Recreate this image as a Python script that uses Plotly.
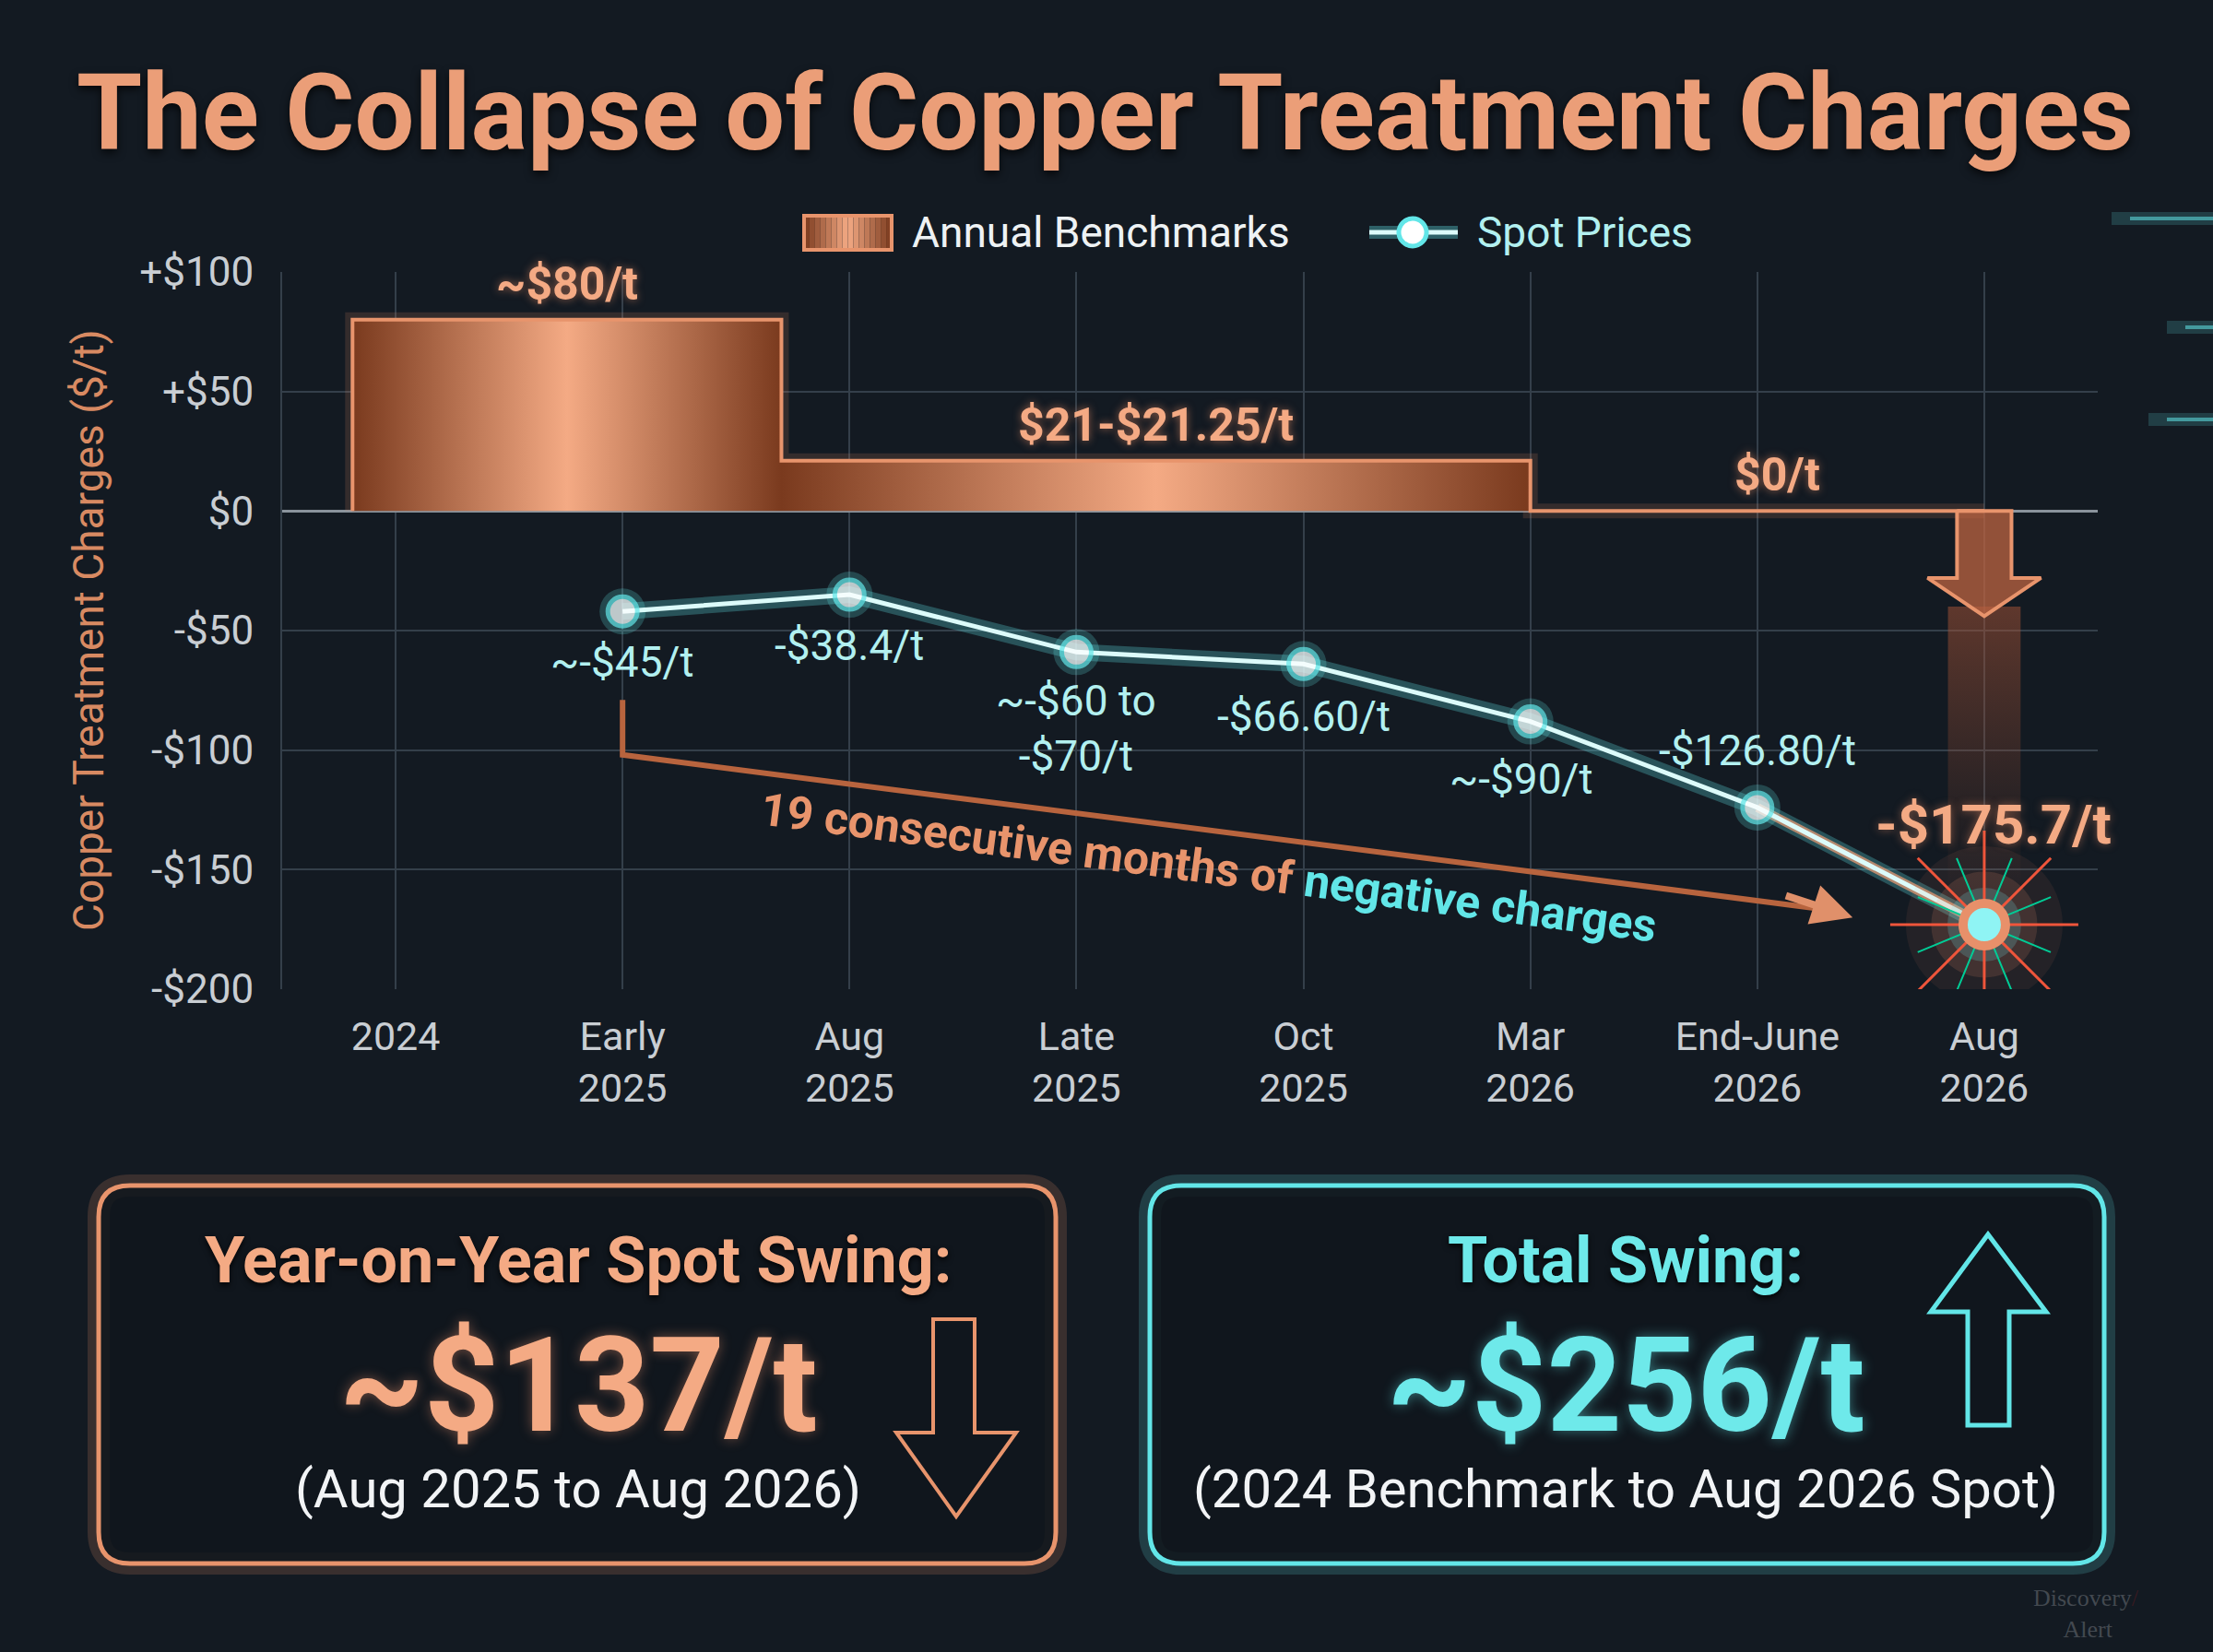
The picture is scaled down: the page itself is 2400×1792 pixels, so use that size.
import plotly.graph_objects as go

# ---- data ----
categories = ["2024", "Early<br>2025", "Aug<br>2025", "Late<br>2025", "Oct<br>2025",
              "Mar<br>2026", "End-June<br>2026", "Aug<br>2026"]

bench_start = [-0.19, 1.70, 5.0]
bench_end = [1.70, 5.0, 7.0]
bench_val = [80, 21, 0]
bench_labels = ["~$80/t", "$21-$21.25/t", "$0/t"]

spot_x = [1, 2, 3, 4, 5, 6, 7]
spot_val = [-42, -35, -59, -64, -88, -124, -173]
spot_labels = ["~-$45/t", "-$38.4/t", "~-$60 to<br>-$70/t", "-$66.60/t",
               "~-$90/t", "-$126.80/t", "-$175.7/t"]

y_ticks = [-200, -150, -100, -50, 0, 50, 100]
y_ticktext = ["-$200", "-$150", "-$100", "-$50", "$0", "+$50", "+$100"]

# ---- styling ----
W, H = 2400, 1792
L, R, T, B = 306, 125, 295, 719
PW, PH = W - L - R, H - T - B
BG = "#131a22"
GRID = "#343f4a"
COPPER = "#e8946c"
COPPER_D = "#7a3a1e"
COPPER_L = "#f4aa84"
CYAN = "#62e6e8"
CYAN_TXT = "#b2f0f0"
FONT = "Roboto"


def px(x):
    return (x - L) / PW


def py(y):
    return (H - B - y) / PH


def rounded_box(x0, y0, x1, y1, r):
    X0, X1, Y0, Y1 = px(x0), px(x1), py(y1), py(y0)
    rx, ry = r / PW, r / PH
    return (f"M {X0+rx},{Y0} L {X1-rx},{Y0} Q {X1},{Y0} {X1},{Y0+ry} "
            f"L {X1},{Y1-ry} Q {X1},{Y1} {X1-rx},{Y1} L {X0+rx},{Y1} "
            f"Q {X0},{Y1} {X0},{Y1-ry} L {X0},{Y0+ry} Q {X0},{Y0} {X0+rx},{Y0} Z")


def arrow_path(pts):
    return "M " + " L ".join(f"{px(a)},{py(b)}" for a, b in pts) + " Z"


def mix(c1, c2, t):
    a = [int(c1[i:i + 2], 16) for i in (1, 3, 5)]
    b = [int(c2[i:i + 2], 16) for i in (1, 3, 5)]
    return "rgb(%d,%d,%d)" % tuple(round(a[k] + (b[k] - a[k]) * t) for k in range(3))


fig = go.Figure()

# benchmark step area
bx, by = [bench_start[0]], [0]
for s, e, v in zip(bench_start, bench_end, bench_val):
    bx += [s, e]
    by += [v, v]

span = bench_end[-1] - bench_start[0]
stops = []
for s, e in zip(bench_start[:2], bench_end[:2]):
    stops.append([(s - bench_start[0]) / span, COPPER_D])
    stops.append([((s + e) / 2 - bench_start[0]) / span, COPPER_L])
stops.append([(bench_end[1] - bench_start[0]) / span - 0.001, COPPER_D])
stops.append([1.0, COPPER_D])

fig.add_trace(go.Scatter(x=bx, y=by, mode="lines", hoverinfo="skip",
                         line=dict(color="rgba(232,140,100,0.16)", width=16)))
fig.add_trace(go.Scatter(
    x=bx, y=by, mode="lines", name="Annual Benchmarks", fill="tozeroy",
    fillgradient=dict(type="horizontal", colorscale=stops,
                      start=bench_start[0], stop=bench_end[-1]),
    line=dict(color=COPPER, width=4)))

# fading band + down arrow at Aug 2026
ax = spot_x[-1]
fig.add_trace(go.Scatter(
    x=[ax - 0.16, ax + 0.16, ax + 0.16, ax - 0.16, ax - 0.16],
    y=[-40, -40, spot_val[-1] + 15, spot_val[-1] + 15, -40],
    mode="lines", fill="toself", line=dict(width=0), hoverinfo="skip",
    fillgradient=dict(type="vertical",
                      colorscale=[[0, "rgba(160,80,50,0.0)"], [1, "rgba(170,85,55,0.5)"]])))
fig.add_trace(go.Scatter(
    x=[ax - 0.12, ax + 0.12, ax + 0.12, ax + 0.25, ax, ax - 0.25, ax - 0.12, ax - 0.12],
    y=[0, 0, -28, -28, -44, -28, -28, 0],
    mode="lines", fill="toself", fillcolor="rgba(190,100,65,0.75)",
    line=dict(color=COPPER, width=4), hoverinfo="skip"))

# spot line
fig.add_trace(go.Scatter(x=spot_x, y=spot_val, mode="lines", hoverinfo="skip",
                         line=dict(color="rgba(98,230,232,0.28)", width=18)))
fig.add_trace(go.Scatter(x=spot_x[-2:], y=spot_val[-2:], mode="lines", hoverinfo="skip",
                         line=dict(color="rgba(240,160,120,0.7)", width=10)))
fig.add_trace(go.Scatter(x=spot_x[:-1], y=spot_val[:-1], mode="markers", hoverinfo="skip",
                         marker=dict(size=50, color="rgba(98,230,232,0.22)")))
fig.add_trace(go.Scatter(
    x=spot_x, y=spot_val, mode="lines+markers", name="Spot Prices",
    line=dict(color="#dcfbfa", width=5),
    marker=dict(size=[32] * 6 + [0], color="#ffffff", line=dict(color=CYAN, width=5))))

# burst at the last point
lx, ly = spot_x[-1], spot_val[-1]
for size, col in [(170, "rgba(240,140,100,0.08)"), (115, "rgba(240,150,110,0.15)"),
                  (80, "rgba(120,230,235,0.20)")]:
    fig.add_trace(go.Scatter(x=[lx], y=[ly], mode="markers", hoverinfo="skip",
                             marker=dict(size=size, color=col)))
fig.add_trace(go.Scatter(x=[lx], y=[ly], mode="markers", hoverinfo="skip",
                         marker=dict(symbol="asterisk-open", size=170,
                                     line=dict(color="rgba(240,150,110,0.35)", width=3))))
fig.add_trace(go.Scatter(x=[lx], y=[ly], mode="markers", hoverinfo="skip",
                         marker=dict(symbol="asterisk-open", size=130, angle=22.5,
                                     line=dict(color="rgba(110,230,235,0.4)", width=2))))
fig.add_trace(go.Scatter(x=[lx], y=[ly], mode="markers", hoverinfo="skip",
                         marker=dict(size=46, color="#8ff4f4", line=dict(color="#e8906a", width=10))))

# consecutive-months arrow
arr_x0, arr_y0, arr_y1 = spot_x[0], -79, -102
arr_x2, arr_y2 = 6.42, -170
fig.add_trace(go.Scatter(x=[arr_x0, arr_x0, arr_x2 - 0.1], y=[arr_y0, arr_y1, arr_y2 + 3.1],
                         mode="lines", hoverinfo="skip",
                         line=dict(color="#b8643e", width=6)))

annotations = []
annotations.append(dict(x=arr_x2, y=arr_y2, ax=arr_x2 - 0.3, ay=arr_y2 + 9.3,
                        xref="x", yref="y", axref="x", ayref="y", text="",
                        showarrow=True, arrowhead=2, arrowsize=1.1, arrowwidth=8,
                        arrowcolor="#e0906a"))
annotations.append(dict(
    x=3.58, y=-149, xref="x", yref="y", showarrow=False, textangle=7.5,
    text=f"19 consecutive months of <span style='color:{CYAN}'>negative charges</span>",
    font=dict(family=FONT, size=50, color=COPPER, weight="bold")))

# benchmark labels
for s, e, v, t in zip(bench_start, bench_end, bench_val, bench_labels):
    annotations.append(dict(x=(s + e) / 2 + (0.09 if v == 0 else 0), y=v + 15, xref="x", yref="y",
                            text=t, showarrow=False,
                            font=dict(family=FONT, size=50, color=COPPER_L, weight="bold",
                                      shadow="0 0 10px rgba(232,140,100,0.6)")))

# spot labels
lab_dx = [0, 0, 0, 0, -0.04, 0, 0.04]
lab_dy = [-21, -21, -32, -22, -24, 24, 42]
for i, (x, v, t) in enumerate(zip(spot_x, spot_val, spot_labels)):
    last = i == len(spot_x) - 1
    annotations.append(dict(
        x=x + lab_dx[i], y=v + lab_dy[i], xref="x", yref="y", text=t, showarrow=False,
        font=dict(family=FONT, size=60 if last else 46,
                  color=COPPER_L if last else CYAN_TXT,
                  weight="bold" if last else "normal",
                  shadow="0 0 10px rgba(232,140,100,0.5)" if last else "none")))


def paper_text(x, y, text, **font):
    annotations.append(dict(x=px(x), y=py(y), xref="paper", yref="paper", showarrow=False,
                            xanchor="center", yanchor="middle", text=text,
                            font=dict(family=FONT, **font)))


# title + axis title
paper_text(1198, 122, "The Collapse of Copper Treatment Charges", size=115, color="#eb9e78",
           weight="bold", shadow="0 4px 10px rgba(0,0,0,0.7)")
annotations.append(dict(x=px(96), y=py(684), xref="paper", yref="paper", showarrow=False,
                        xanchor="center", yanchor="middle",
                        text="Copper Treatment Charges ($/t)", textangle=-90,
                        font=dict(family=FONT, size=46, color="#d88a62")))

shapes = []

# legend (drawn by hand so the swatches match)
sw_x0, sw_x1, sw_y0, sw_y1 = 872, 967, 234, 271
n = 16
for k in range(n):
    t = abs((k + 0.5) / n - 0.5) * 2
    shapes.append(dict(type="rect", xref="paper", yref="paper",
                       x0=px(sw_x0 + (sw_x1 - sw_x0) * k / n), x1=px(sw_x0 + (sw_x1 - sw_x0) * (k + 1) / n),
                       y0=py(sw_y1), y1=py(sw_y0), fillcolor=mix(COPPER_L, COPPER_D, t), line_width=0))
shapes.append(dict(type="rect", xref="paper", yref="paper", x0=px(sw_x0), x1=px(sw_x1),
                   y0=py(sw_y1), y1=py(sw_y0), line=dict(color=COPPER, width=4)))
shapes.append(dict(type="line", xref="paper", yref="paper", x0=px(1485), x1=px(1581),
                   y0=py(252), y1=py(252), line=dict(color="rgba(98,230,232,0.35)", width=14)))
shapes.append(dict(type="line", xref="paper", yref="paper", x0=px(1485), x1=px(1581),
                   y0=py(252), y1=py(252), line=dict(color="#dcfbfa", width=5)))
shapes.append(dict(type="circle", xref="paper", yref="paper", x0=px(1517), x1=px(1547),
                   y0=py(267), y1=py(237), fillcolor="#ffffff", line=dict(color=CYAN, width=5)))
annotations.append(dict(x=px(987), y=py(252), xref="paper", yref="paper", showarrow=False,
                        xanchor="left", yanchor="middle", text="Annual Benchmarks",
                        font=dict(family=FONT, size=46, color="#eef2f4")))
annotations.append(dict(x=px(1600), y=py(252), xref="paper", yref="paper", showarrow=False,
                        xanchor="left", yanchor="middle", text="Spot Prices",
                        font=dict(family=FONT, size=46, color=CYAN_TXT)))

# boxes
boxes = [(107, 1286, 1145, 1696, COPPER, "232,144,106"), (1247, 1286, 2282, 1696, CYAN, "98,230,232")]
for x0, y0, x1, y1, col, rgb in boxes:
    path = rounded_box(x0, y0, x1, y1, 34)
    shapes.append(dict(type="path", path=path, xref="paper", yref="paper",
                       line=dict(color=f"rgba({rgb},0.18)", width=24), layer="below"))
    shapes.append(dict(type="path", path=path, xref="paper", yref="paper",
                       fillcolor="rgba(16,22,28,0.85)", line=dict(color=col, width=5)))

box_text = [
    (627, "Year-on-Year Spot Swing:", "~$137/t", "(Aug 2025 to Aug 2026)", COPPER_L, "232,144,106"),
    (1763, "Total Swing:", "~$256/t", "(2024 Benchmark to Aug 2026 Spot)", "#6ee9ea", "98,230,232"),
]
for cx, head, big, sub, col, rgb in box_text:
    paper_text(cx, 1367, head, size=70, color=col, weight="bold", shadow="0 3px 6px rgba(0,0,0,0.8)")
    paper_text(cx, 1503, big, size=142, color=col, weight="bold", shadow=f"0 0 14px rgba({rgb},0.45)")
    paper_text(cx, 1615, sub, size=58, color="#f2f4f6")

# box arrows (outline)
down = [(1012, 1431), (1057, 1431), (1057, 1554), (1102, 1554), (1037, 1645),
        (972, 1554), (1012, 1554)]
up = [(2134, 1546), (2179, 1546), (2179, 1423), (2219, 1423), (2156, 1339),
      (2094, 1423), (2134, 1423)]
shapes.append(dict(type="path", path=arrow_path(down), xref="paper", yref="paper",
                   line=dict(color=COPPER, width=4)))
shapes.append(dict(type="path", path=arrow_path(up), xref="paper", yref="paper",
                   line=dict(color=CYAN, width=5)))

# faint circuit streaks on the right
for y0, x0 in [(237, 2290), (355, 2350), (455, 2330)]:
    shapes.append(dict(type="line", xref="paper", yref="paper", x0=px(x0), x1=px(2400),
                       y0=py(y0), y1=py(y0), line=dict(color="rgba(98,230,232,0.18)", width=14),
                       layer="below"))
    shapes.append(dict(type="line", xref="paper", yref="paper", x0=px(x0 + 20), x1=px(2400),
                       y0=py(y0), y1=py(y0), line=dict(color="rgba(98,230,232,0.55)", width=4),
                       layer="below"))

annotations.append(dict(x=px(2262), y=py(1750), xref="paper", yref="paper", showarrow=False,
                        xanchor="center", yanchor="middle",
                        text="Discovery<span style='color:rgba(200,30,30,0.6)'>/</span><br>"
                             "&nbsp;&nbsp;&nbsp;&nbsp;&nbsp;Alert",
                        align="left",
                        font=dict(family="Liberation Serif", size=26, color="rgba(160,165,170,0.35)")))

fig.update_layout(
    width=W, height=H,
    margin=dict(l=L, r=R, t=T, b=B),
    paper_bgcolor=BG, plot_bgcolor=BG,
    font=dict(family=FONT, color="#c9ced3"),
    showlegend=False,
    xaxis=dict(range=[-0.5, 7.5], tickvals=list(range(len(categories))), ticktext=categories,
               showgrid=True, gridcolor=GRID, gridwidth=2, zeroline=False,
               tickfont=dict(family=FONT, size=43, color="#c9ced3"), ticklabelstandoff=22,
               fixedrange=True),
    yaxis=dict(range=[-200, 100], tickvals=y_ticks, ticktext=y_ticktext,
               showgrid=True, gridcolor=GRID, gridwidth=2,
               zeroline=True, zerolinecolor="#8a939c", zerolinewidth=3,
               showline=True, linecolor=GRID, linewidth=2,
               tickfont=dict(family=FONT, size=44, color="#c9ced3"), ticklabelstandoff=20,
               fixedrange=True),
    annotations=annotations,
    shapes=shapes,
)

fig.write_html("out.html", config={"displayModeBar": False},
               post_script="document.body.style.margin='0';document.body.style.background='#131a22';")
